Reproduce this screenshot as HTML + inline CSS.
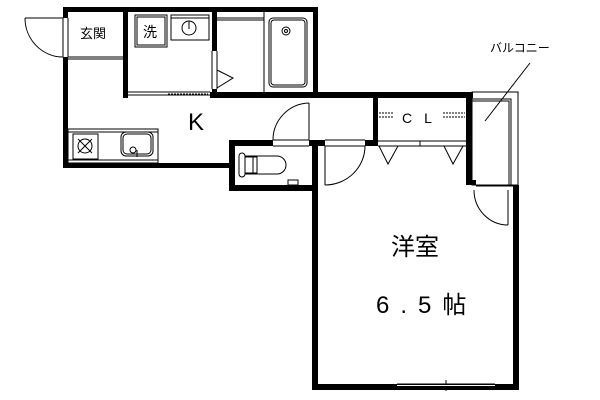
<!DOCTYPE html>
<html><head><meta charset="utf-8"><style>
html,body{margin:0;padding:0;background:#fff;width:600px;height:400px;overflow:hidden}
svg{display:block}
text{font-family:"Liberation Sans","Noto Sans CJK JP",sans-serif;fill:#000}
</style></head><body>
<svg width="600" height="400" viewBox="0 0 600 400">
<g fill="#000">
<rect x="63" y="7" width="255" height="5"/>
<rect x="63" y="57" width="5" height="111"/>
<rect x="63" y="7" width="5" height="11"/>
<rect x="123" y="7" width="5" height="90"/>
<rect x="212" y="7" width="5" height="44"/>
<rect x="212" y="89" width="5" height="8"/>
<rect x="313" y="7" width="5" height="90"/>
<rect x="210" y="92" width="263" height="6"/>
<rect x="123" y="92" width="5" height="6"/>
<rect x="373" y="93" width="5" height="53"/>
<rect x="466" y="93" width="6" height="92"/>
<rect x="63" y="163" width="170" height="5"/>
<rect x="229" y="140" width="6" height="51"/>
<rect x="229" y="140" width="44" height="6"/>
<rect x="229" y="185" width="88" height="6"/>
<rect x="309" y="140" width="16" height="6"/>
<rect x="365" y="140" width="13" height="6"/>
<rect x="312" y="140" width="6" height="250"/>
<rect x="312" y="384" width="207" height="6"/>
<rect x="513" y="185" width="6" height="205"/>
<rect x="466" y="180" width="10" height="5"/>
</g>
<g fill="none" stroke="#000" stroke-width="1">
<line x1="63" y1="18" x2="63" y2="57"/><line x1="68" y1="18" x2="68" y2="57"/>
<line x1="25" y1="18" x2="63" y2="18"/>
<path d="M25 18 A38 39 0 0 0 63 57"/>
<line x1="68" y1="57" x2="123" y2="57"/><line x1="68" y1="59" x2="123" y2="59"/>
<rect x="135" y="15" width="32" height="32"/><rect x="137" y="17" width="28" height="28"/>
<rect x="171" y="15" width="38" height="25"/><line x1="171" y1="18" x2="209" y2="18"/>
<circle cx="189" cy="28" r="7"/><line x1="189" y1="21" x2="189" y2="29"/>
<line x1="128" y1="92" x2="210" y2="92"/><line x1="128" y1="95" x2="210" y2="95"/>
<line x1="168" y1="94" x2="208" y2="94" stroke-dasharray="2 1"/>
<line x1="212" y1="51" x2="212" y2="89"/><line x1="217" y1="51" x2="217" y2="89"/>
<polyline points="217,70 233,78 217,88"/>
<line x1="217" y1="18" x2="264" y2="18"/><line x1="217" y1="20" x2="264" y2="20"/>
<line x1="264" y1="12" x2="264" y2="92"/>
<rect x="269" y="18" width="38" height="69" rx="4"/><rect x="271" y="20" width="34" height="65" rx="3"/>
<circle cx="286" cy="31" r="4"/><circle cx="286" cy="31" r="1.5"/>
<rect x="68" y="129" width="90" height="34"/><line x1="68" y1="132" x2="158" y2="132"/><line x1="68" y1="160" x2="158" y2="160"/>
<rect x="73" y="134" width="25" height="25"/>
<circle cx="85" cy="146" r="7"/>
<line x1="78" y1="139" x2="92" y2="153"/><line x1="92" y1="139" x2="78" y2="153"/>
<rect x="121" y="132" width="32" height="24" rx="5"/><rect x="123" y="134" width="28" height="20" rx="4"/>
<circle cx="133" cy="150" r="3"/><line x1="137" y1="150" x2="137" y2="157"/>
<line x1="273" y1="140" x2="309" y2="140"/><line x1="273" y1="146" x2="309" y2="146"/>
<line x1="309" y1="103" x2="309" y2="140"/>
<path d="M309 103 A37 37 0 0 0 273 140"/>
<path d="M245 156 h32 a9 9 0 0 1 0 18 h-32 z"/>
<rect x="245" y="157" width="12" height="16"/><line x1="253" y1="157" x2="253" y2="173"/>
<path d="M245 156 a3 3 0 0 0 -6 0 v18 a3 3 0 0 0 6 0"/>
<rect x="288" y="180" width="10" height="5"/>
<line x1="325" y1="140" x2="365" y2="140"/><line x1="325" y1="146" x2="365" y2="146"/>
<line x1="325" y1="146" x2="325" y2="185"/>
<path d="M325 185 A40 39 0 0 0 365 146"/>
<line x1="378" y1="141" x2="466" y2="141"/><line x1="378" y1="146" x2="466" y2="146"/>
<line x1="420" y1="141" x2="420" y2="146"/>
<polyline points="379,146 388,164 398,146"/>
<polyline points="444,146 453,164 463,146"/>
<line x1="379" y1="113" x2="394" y2="113" stroke-dasharray="2 1"/><line x1="379" y1="117" x2="394" y2="117" stroke-dasharray="2 1"/>
<line x1="443" y1="113" x2="465" y2="113" stroke-dasharray="2 1"/><line x1="443" y1="117" x2="465" y2="117" stroke-dasharray="2 1"/>
<rect x="472" y="92" width="46" height="93"/>
<polyline points="472,99 511,99 511,185"/><polyline points="472,101 509,101 509,185"/>
<line x1="530" y1="63" x2="485" y2="121"/>
<line x1="476" y1="186" x2="513" y2="186"/>
<line x1="508" y1="190" x2="508" y2="225"/>
<path d="M474 190 A34 35 0 0 0 508 225"/>
<line x1="397" y1="384" x2="495" y2="384"/><line x1="397" y1="387" x2="495" y2="387"/>
<line x1="446" y1="380" x2="446" y2="391"/>
</g>
<rect x="397" y="385" width="98" height="1" fill="#fff"/>
<text x="80" y="38" font-size="13">玄関</text>
<text x="143" y="37" font-size="14">洗</text>
<text x="188" y="130" font-size="24">K</text>
<text x="402" y="123" font-size="14" letter-spacing="12">CL</text>
<text x="490" y="52" font-size="12">バルコニー</text>
<text x="391" y="255" font-size="24">洋室</text>
<text x="376" y="313" font-size="24" letter-spacing="11">6.5帖</text>
</svg>
</body></html>
